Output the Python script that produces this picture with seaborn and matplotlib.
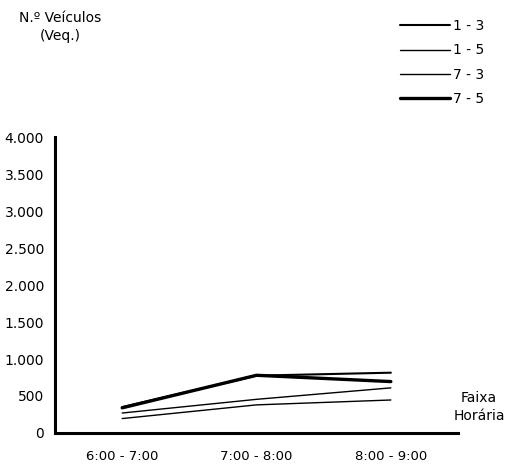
import matplotlib
matplotlib.use("Agg")
import matplotlib.pyplot as plt
import seaborn as sns
import pandas as pd
from matplotlib.ticker import FuncFormatter

# Time bands on the x axis
faixas = ["6:00 - 7:00", "7:00 - 8:00", "8:00 - 9:00"]

# Vehicle counts (Veq.) per movement
veq_1_3 = [350, 775, 815]
veq_1_5 = [195, 380, 446]
veq_7_3 = [270, 455, 610]
veq_7_5 = [340, 780, 695]

series = {"1 - 3": veq_1_3, "1 - 5": veq_1_5, "7 - 3": veq_7_3, "7 - 5": veq_7_5}
widths = {"1 - 3": 1.5, "1 - 5": 1.0, "7 - 3": 1.0, "7 - 5": 2.4}

rows = []
for name, vals in series.items():
    for f, v in zip(faixas, vals):
        rows.append({"faixa": f, "movimento": name, "veq": v})
df = pd.DataFrame(rows)

sns.set_style("white")
plt.rcParams["font.family"] = ["DejaVu Sans"]
plt.rcParams["text.color"] = "black"
plt.rcParams["xtick.color"] = "black"
plt.rcParams["ytick.color"] = "black"

fig = plt.figure(figsize=(5.08, 4.71), dpi=100)
ax = fig.add_axes([0.1083, 0.0807, 0.7933, 0.6283])

for name in series:
    sns.lineplot(data=df[df["movimento"] == name], x="faixa", y="veq",
                 color="black", linewidth=widths[name], label=name,
                 ax=ax, sort=False, legend=False)

ax.set_xlim(-0.5, 2.5)
ax.set_ylim(0, 4000)
ax.set_yticks(range(0, 4001, 500))
ax.yaxis.set_major_formatter(FuncFormatter(lambda v, p: f"{int(v):,}".replace(",", ".")))
ax.set_xticks(range(len(faixas)))
ax.set_xticklabels(faixas)
ax.set_xticks([0.5, 1.5, 2.5], minor=True)
ax.tick_params(axis="x", which="major", length=0, pad=12, labelsize=9.5,
               labelcolor="black")
ax.tick_params(axis="x", which="minor", direction="out", length=5, width=1.5, color="black")
ax.tick_params(axis="y", direction="out", length=5, width=1.5, color="black",
               labelsize=10, pad=3, labelcolor="black")
ax.set_xlabel("")
ax.set_ylabel("")

for side in ("top", "right"):
    ax.spines[side].set_visible(False)
for side in ("left", "bottom"):
    ax.spines[side].set_linewidth(2.2)
    ax.spines[side].set_color("black")

fig.text(60 / 508, 1 - 27 / 471, "N.º Veículos\n(Veq.)", ha="center", va="center",
         fontsize=10, linespacing=1.3, color="black")
fig.text(479 / 508, 1 - 407 / 471, "Faixa\nHorária", ha="center", va="center",
         fontsize=10, linespacing=1.3, color="black")

handles, labels = ax.get_legend_handles_labels()
leg = fig.legend(handles, labels, loc="upper left",
                 bbox_to_anchor=(400 / 508, 1 - 19 / 471),
                 frameon=False, fontsize=10, handlelength=3.6, handletextpad=0.2,
                 labelspacing=0.75, borderaxespad=0, borderpad=0)
for t in leg.get_texts():
    t.set_color("black")

fig.savefig("out.png", dpi=100, facecolor="white")
